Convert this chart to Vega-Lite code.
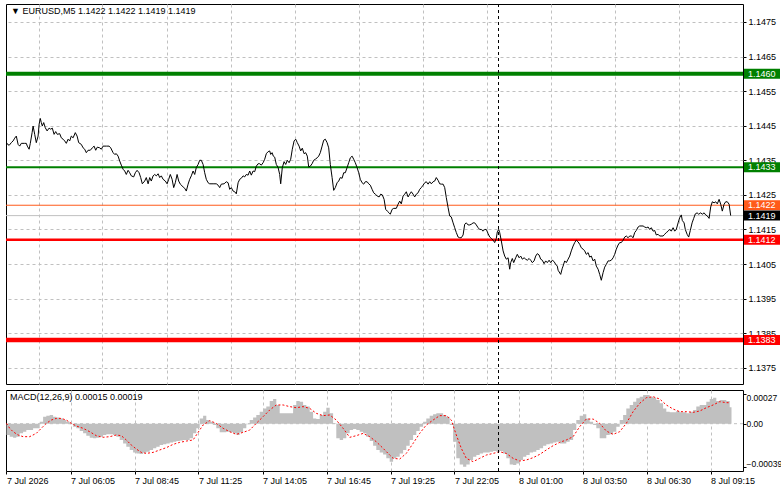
{
"$schema":"https://vega.github.io/schema/vega-lite/v6.json",
"padding":{"left":3,"top":3,"right":0,"bottom":0},
"background":"white",
"spacing":4,
"config":{
 "view":{"stroke":"black","strokeWidth":1},
 "font":"Liberation Sans",
 "axis":{"labelFont":"Liberation Sans","labelFontSize":9,"labelColor":"black","gridColor":"#c0c0c0","gridDash":[3,3],"gridWidth":1,"tickColor":"black","domain":false,"title":null,"labelOverlap":false,"labelSeparation":0},
 "axisRight":{"labelOverlap":false},
 "title":{"font":"Liberation Sans","fontSize":9,"fontWeight":"normal","color":"black","anchor":"start","frame":"group"}
},
"resolve":{"scale":{"x":"independent","y":"independent"}},
"datasets":{
 "levels":[{"price":1.1460,"kind":"buy target"},{"price":1.1433,"kind":"buy entry"},{"price":1.1422,"kind":"ask"},{"price":1.1419,"kind":"bid"},{"price":1.1412,"kind":"sell entry"},{"price":1.1383,"kind":"sell target"}],
 "price":[
{"bar":0,"price":1.14393},{"bar":0.4,"price":1.14398},{"bar":1.3,"price":1.14393},{"bar":2.4,"price":1.14401},{"bar":3.3,"price":1.14406},{"bar":4.1,"price":1.14414},{"bar":4.9,"price":1.1442},{"bar":5.8,"price":1.14396},{"bar":6.6,"price":1.14391},{"bar":7.4,"price":1.14399},{"bar":9.1,"price":1.14399},{"bar":9.9,"price":1.14399},{"bar":10.4,"price":1.14391},{"bar":11.3,"price":1.14382},{"bar":11.9,"price":1.14399},{"bar":12.8,"price":1.1443},{"bar":13.3,"price":1.14449},{"bar":14.1,"price":1.14425},{"bar":14.9,"price":1.14401},{"bar":15.8,"price":1.1442},{"bar":16.3,"price":1.14454},{"bar":16.9,"price":1.14471},{"bar":17.4,"price":1.14459},{"bar":17.9,"price":1.14449},{"bar":18.6,"price":1.14459},{"bar":19.4,"price":1.14444},{"bar":20.3,"price":1.14435},{"bar":21.3,"price":1.14443},{"bar":22.1,"price":1.1444},{"bar":22.9,"price":1.14443},{"bar":23.8,"price":1.14425},{"bar":24.6,"price":1.14433},{"bar":25.4,"price":1.14425},{"bar":26.6,"price":1.14427},{"bar":27.4,"price":1.14415},{"bar":28.3,"price":1.14411},{"bar":29.1,"price":1.14406},{"bar":29.9,"price":1.14399},{"bar":30.8,"price":1.14411},{"bar":31.6,"price":1.14406},{"bar":32.4,"price":1.1442},{"bar":33.3,"price":1.14415},{"bar":34.4,"price":1.1443},{"bar":35.3,"price":1.1442},{"bar":36.1,"price":1.14401},{"bar":37.4,"price":1.14396},{"bar":38.3,"price":1.14386},{"bar":39.1,"price":1.14382},{"bar":39.9,"price":1.14372},{"bar":40.8,"price":1.14379},{"bar":41.9,"price":1.14379},{"bar":42.9,"price":1.14386},{"bar":43.8,"price":1.14391},{"bar":44.6,"price":1.14379},{"bar":45.4,"price":1.14388},{"bar":46.6,"price":1.14386},{"bar":47.4,"price":1.14382},{"bar":48.3,"price":1.14391},{"bar":49.9,"price":1.14391},{"bar":51.3,"price":1.14391},{"bar":52.1,"price":1.14386},{"bar":53.3,"price":1.14372},{"bar":54.1,"price":1.14367},{"bar":54.9,"price":1.14369},{"bar":55.8,"price":1.14362},{"bar":56.6,"price":1.14348},{"bar":57.4,"price":1.14336},{"bar":58.3,"price":1.14324},{"bar":59.1,"price":1.14319},{"bar":59.9,"price":1.14309},{"bar":60.8,"price":1.14321},{"bar":61.6,"price":1.14314},{"bar":62.4,"price":1.14305},{"bar":63.6,"price":1.14302},{"bar":64.4,"price":1.14314},{"bar":65.3,"price":1.14321},{"bar":66.3,"price":1.14314},{"bar":67.1,"price":1.143},{"bar":67.9,"price":1.14282},{"bar":69.1,"price":1.1429},{"bar":69.9,"price":1.143},{"bar":70.8,"price":1.14282},{"bar":71.6,"price":1.143},{"bar":72.4,"price":1.1429},{"bar":73.3,"price":1.14305},{"bar":74.1,"price":1.14309},{"bar":74.9,"price":1.14305},{"bar":75.8,"price":1.14311},{"bar":76.6,"price":1.143},{"bar":77.4,"price":1.14305},{"bar":78.3,"price":1.14295},{"bar":79.4,"price":1.1429},{"bar":80.3,"price":1.14282},{"bar":81.1,"price":1.14295},{"bar":81.9,"price":1.14309},{"bar":82.8,"price":1.14295},{"bar":83.6,"price":1.14271},{"bar":84.4,"price":1.14285},{"bar":85.3,"price":1.14309},{"bar":86.1,"price":1.1429},{"bar":86.9,"price":1.14281},{"bar":88.3,"price":1.14273},{"bar":89.1,"price":1.14269},{"bar":89.9,"price":1.14261},{"bar":90.8,"price":1.14281},{"bar":91.6,"price":1.14295},{"bar":92.4,"price":1.14305},{"bar":93.3,"price":1.14319},{"bar":94.1,"price":1.14309},{"bar":94.9,"price":1.14329},{"bar":95.8,"price":1.14338},{"bar":96.6,"price":1.1435},{"bar":97.4,"price":1.1435},{"bar":98.3,"price":1.14338},{"bar":99.1,"price":1.14314},{"bar":99.9,"price":1.14295},{"bar":100.8,"price":1.14285},{"bar":101.6,"price":1.14282},{"bar":103.3,"price":1.14282},{"bar":104.9,"price":1.14282},{"bar":105.8,"price":1.14278},{"bar":106.6,"price":1.14271},{"bar":107.4,"price":1.14281},{"bar":108.8,"price":1.14282},{"bar":109.9,"price":1.14288},{"bar":110.8,"price":1.14285},{"bar":111.6,"price":1.14266},{"bar":112.4,"price":1.14271},{"bar":113.3,"price":1.14261},{"bar":114.1,"price":1.14259},{"bar":114.9,"price":1.14253},{"bar":115.8,"price":1.14285},{"bar":116.6,"price":1.14295},{"bar":117.4,"price":1.14298},{"bar":118.3,"price":1.14305},{"bar":119.1,"price":1.14302},{"bar":119.9,"price":1.14309},{"bar":120.8,"price":1.14307},{"bar":121.6,"price":1.14319},{"bar":122.4,"price":1.14307},{"bar":123.3,"price":1.14319},{"bar":124.1,"price":1.14317},{"bar":124.9,"price":1.14333},{"bar":125.8,"price":1.1434},{"bar":126.6,"price":1.1434},{"bar":127.4,"price":1.14336},{"bar":128.3,"price":1.14343},{"bar":129.1,"price":1.14353},{"bar":129.9,"price":1.14369},{"bar":130.8,"price":1.14375},{"bar":131.6,"price":1.14377},{"bar":132.1,"price":1.14367},{"bar":132.8,"price":1.14372},{"bar":133.4,"price":1.14362},{"bar":134.1,"price":1.14359},{"bar":134.9,"price":1.14338},{"bar":135.8,"price":1.14329},{"bar":136.6,"price":1.14309},{"bar":137.1,"price":1.14282},{"bar":137.9,"price":1.14329},{"bar":138.8,"price":1.14346},{"bar":139.6,"price":1.14338},{"bar":140.4,"price":1.1435},{"bar":141.3,"price":1.14343},{"bar":142.1,"price":1.14353},{"bar":142.9,"price":1.14382},{"bar":143.8,"price":1.14406},{"bar":144.6,"price":1.14411},{"bar":145.4,"price":1.14401},{"bar":146.3,"price":1.14391},{"bar":147.1,"price":1.14377},{"bar":147.9,"price":1.14385},{"bar":148.8,"price":1.14369},{"bar":149.6,"price":1.14372},{"bar":150.4,"price":1.14362},{"bar":151.1,"price":1.14331},{"bar":151.9,"price":1.14333},{"bar":152.8,"price":1.1434},{"bar":153.6,"price":1.1435},{"bar":154.4,"price":1.14353},{"bar":155.3,"price":1.14357},{"bar":156.1,"price":1.14362},{"bar":156.9,"price":1.14372},{"bar":157.8,"price":1.14391},{"bar":158.6,"price":1.14408},{"bar":159.4,"price":1.14411},{"bar":160.3,"price":1.14401},{"bar":161.1,"price":1.14386},{"bar":161.9,"price":1.14338},{"bar":162.8,"price":1.143},{"bar":163.6,"price":1.14263},{"bar":164.4,"price":1.14271},{"bar":165.3,"price":1.14285},{"bar":166.1,"price":1.1429},{"bar":166.9,"price":1.143},{"bar":167.8,"price":1.14298},{"bar":168.6,"price":1.14314},{"bar":169.4,"price":1.14314},{"bar":170.3,"price":1.14329},{"bar":171.1,"price":1.14343},{"bar":171.9,"price":1.14357},{"bar":172.8,"price":1.14362},{"bar":173.6,"price":1.14353},{"bar":174.4,"price":1.14343},{"bar":175.3,"price":1.14329},{"bar":176.1,"price":1.14314},{"bar":176.9,"price":1.14295},{"bar":177.8,"price":1.14285},{"bar":178.6,"price":1.14281},{"bar":179.4,"price":1.14288},{"bar":180.3,"price":1.14288},{"bar":181.1,"price":1.14282},{"bar":181.9,"price":1.14278},{"bar":182.8,"price":1.14266},{"bar":183.6,"price":1.14256},{"bar":184.4,"price":1.14252},{"bar":185.3,"price":1.14247},{"bar":186.3,"price":1.14244},{"bar":187.1,"price":1.14252},{"bar":187.9,"price":1.1425},{"bar":188.8,"price":1.14237},{"bar":189.6,"price":1.14208},{"bar":190.4,"price":1.14203},{"bar":191.3,"price":1.14198},{"bar":191.9,"price":1.14194},{"bar":192.8,"price":1.14208},{"bar":193.6,"price":1.14211},{"bar":194.9,"price":1.14211},{"bar":195.8,"price":1.14223},{"bar":196.6,"price":1.14232},{"bar":197.4,"price":1.14224},{"bar":198.3,"price":1.14247},{"bar":199.1,"price":1.14252},{"bar":199.9,"price":1.14259},{"bar":200.8,"price":1.14244},{"bar":201.6,"price":1.14252},{"bar":202.4,"price":1.14259},{"bar":203.3,"price":1.14252},{"bar":204.1,"price":1.14244},{"bar":204.9,"price":1.14252},{"bar":205.8,"price":1.14256},{"bar":206.6,"price":1.14266},{"bar":207.4,"price":1.14271},{"bar":208.3,"price":1.14278},{"bar":209.1,"price":1.14285},{"bar":209.9,"price":1.14288},{"bar":210.8,"price":1.14281},{"bar":211.6,"price":1.14288},{"bar":212.4,"price":1.14282},{"bar":213.3,"price":1.14288},{"bar":214.1,"price":1.1429},{"bar":214.9,"price":1.143},{"bar":215.8,"price":1.14292},{"bar":216.6,"price":1.14282},{"bar":217.4,"price":1.14281},{"bar":218.3,"price":1.14281},{"bar":219.1,"price":1.14271},{"bar":219.9,"price":1.14242},{"bar":220.8,"price":1.14213},{"bar":221.6,"price":1.14189},{"bar":222.4,"price":1.14186},{"bar":223.3,"price":1.14169},{"bar":224.1,"price":1.14155},{"bar":224.9,"price":1.14141},{"bar":225.8,"price":1.14128},{"bar":226.6,"price":1.14126},{"bar":227.4,"price":1.14126},{"bar":228.3,"price":1.14134},{"bar":229.1,"price":1.14165},{"bar":229.9,"price":1.14169},{"bar":230.8,"price":1.14163},{"bar":231.6,"price":1.14163},{"bar":232.4,"price":1.14165},{"bar":233.3,"price":1.14169},{"bar":234.1,"price":1.14169},{"bar":234.9,"price":1.14163},{"bar":235.8,"price":1.14155},{"bar":236.6,"price":1.1415},{"bar":237.4,"price":1.1415},{"bar":238.3,"price":1.14145},{"bar":239.1,"price":1.1415},{"bar":239.9,"price":1.1415},{"bar":240.8,"price":1.14138},{"bar":241.6,"price":1.14128},{"bar":242.4,"price":1.14124},{"bar":243.3,"price":1.14119},{"bar":244.1,"price":1.14112},{"bar":244.9,"price":1.14124},{"bar":245.4,"price":1.14143},{"bar":246.1,"price":1.1415},{"bar":246.6,"price":1.14141},{"bar":247.4,"price":1.14117},{"bar":248.3,"price":1.14088},{"bar":249.1,"price":1.14073},{"bar":249.9,"price":1.14064},{"bar":250.8,"price":1.14068},{"bar":251.6,"price":1.14035},{"bar":252.1,"price":1.14054},{"bar":252.9,"price":1.14066},{"bar":253.6,"price":1.14054},{"bar":254.6,"price":1.14068},{"bar":255.4,"price":1.14078},{"bar":256.3,"price":1.14068},{"bar":257.1,"price":1.14073},{"bar":257.9,"price":1.14064},{"bar":258.8,"price":1.14068},{"bar":259.6,"price":1.14064},{"bar":260.4,"price":1.14061},{"bar":261.3,"price":1.14066},{"bar":262.1,"price":1.14061},{"bar":262.9,"price":1.14054},{"bar":263.8,"price":1.14059},{"bar":264.6,"price":1.14073},{"bar":265.4,"price":1.1408},{"bar":266.3,"price":1.14076},{"bar":267.1,"price":1.14064},{"bar":267.9,"price":1.14061},{"bar":268.8,"price":1.14051},{"bar":269.6,"price":1.14059},{"bar":270.4,"price":1.14054},{"bar":271.3,"price":1.14061},{"bar":272.1,"price":1.14054},{"bar":272.9,"price":1.14061},{"bar":273.8,"price":1.14057},{"bar":274.6,"price":1.14049},{"bar":275.4,"price":1.14044},{"bar":275.8,"price":1.14032},{"bar":277.1,"price":1.1402},{"bar":277.9,"price":1.14038},{"bar":278.3,"price":1.14044},{"bar":279.1,"price":1.14059},{"bar":279.9,"price":1.14054},{"bar":280.8,"price":1.14064},{"bar":281.6,"price":1.14073},{"bar":282.4,"price":1.14088},{"bar":283.3,"price":1.14102},{"bar":284.1,"price":1.14112},{"bar":284.9,"price":1.14119},{"bar":285.8,"price":1.14114},{"bar":286.6,"price":1.14107},{"bar":287.4,"price":1.14097},{"bar":288.3,"price":1.14093},{"bar":289.1,"price":1.14088},{"bar":289.9,"price":1.14078},{"bar":290.8,"price":1.14083},{"bar":291.6,"price":1.1407},{"bar":292.4,"price":1.14073},{"bar":293.3,"price":1.14059},{"bar":294.1,"price":1.14064},{"bar":294.9,"price":1.14044},{"bar":295.8,"price":1.14035},{"bar":296.6,"price":1.1402},{"bar":297.4,"price":1.14003},{"bar":298.3,"price":1.14025},{"bar":299.1,"price":1.14041},{"bar":299.9,"price":1.14049},{"bar":300.8,"price":1.14059},{"bar":301.6,"price":1.14059},{"bar":302.4,"price":1.14061},{"bar":303.3,"price":1.14068},{"bar":304.1,"price":1.14078},{"bar":304.9,"price":1.14093},{"bar":305.8,"price":1.14105},{"bar":306.6,"price":1.14112},{"bar":307.4,"price":1.14112},{"bar":308.3,"price":1.14119},{"bar":309.1,"price":1.14128},{"bar":309.9,"price":1.14131},{"bar":310.8,"price":1.14126},{"bar":311.6,"price":1.14131},{"bar":312.4,"price":1.14131},{"bar":313.3,"price":1.14126},{"bar":314.1,"price":1.14141},{"bar":314.9,"price":1.14147},{"bar":315.8,"price":1.14157},{"bar":316.6,"price":1.1416},{"bar":318.3,"price":1.1416},{"bar":319.1,"price":1.14157},{"bar":319.9,"price":1.14155},{"bar":320.8,"price":1.14157},{"bar":321.6,"price":1.1415},{"bar":322.4,"price":1.14155},{"bar":323.3,"price":1.14145},{"bar":324.1,"price":1.14147},{"bar":324.9,"price":1.14134},{"bar":325.8,"price":1.14136},{"bar":326.6,"price":1.14131},{"bar":328.3,"price":1.14131},{"bar":329.1,"price":1.14136},{"bar":329.9,"price":1.14141},{"bar":330.8,"price":1.14145},{"bar":331.6,"price":1.1415},{"bar":332.4,"price":1.14145},{"bar":333.3,"price":1.14155},{"bar":334.1,"price":1.14145},{"bar":334.9,"price":1.1415},{"bar":335.8,"price":1.14169},{"bar":336.6,"price":1.14184},{"bar":337.4,"price":1.14192},{"bar":337.9,"price":1.14176},{"bar":338.8,"price":1.14169},{"bar":339.4,"price":1.1415},{"bar":340.3,"price":1.14136},{"bar":341.1,"price":1.14128},{"bar":341.9,"price":1.14147},{"bar":342.8,"price":1.14169},{"bar":343.6,"price":1.14182},{"bar":344.4,"price":1.14195},{"bar":345.3,"price":1.14198},{"bar":346.1,"price":1.14194},{"bar":347.1,"price":1.14198},{"bar":347.9,"price":1.14194},{"bar":348.8,"price":1.14198},{"bar":349.6,"price":1.14192},{"bar":350.4,"price":1.14189},{"bar":351.3,"price":1.14182},{"bar":352.1,"price":1.14215},{"bar":352.9,"price":1.1423},{"bar":353.8,"price":1.14227},{"bar":354.6,"price":1.1423},{"bar":355.4,"price":1.14224},{"bar":356.3,"price":1.14237},{"bar":357.1,"price":1.14223},{"bar":357.9,"price":1.14203},{"bar":358.8,"price":1.14223},{"bar":359.6,"price":1.1423},{"bar":360.4,"price":1.1423},{"bar":361.3,"price":1.14223},{"bar":362.1,"price":1.1419}
 ],
 "macd":[
{"bar":0,"macd":-0.000103},{"bar":1.6,"macd":-0.000118},{"bar":3.3,"macd":-0.000127},{"bar":4.9,"macd":-0.000118},{"bar":6.6,"macd":-0.000088},{"bar":8.3,"macd":-0.000073},{"bar":9.9,"macd":-0.000058},{"bar":11.6,"macd":-0.000058},{"bar":13.3,"macd":-0.000042},{"bar":14.9,"macd":-0.000042},{"bar":16.6,"macd":0.000018},{"bar":18.3,"macd":0.000064},{"bar":19.9,"macd":0.000073},{"bar":21.6,"macd":0.000079},{"bar":23.3,"macd":0.000064},{"bar":24.9,"macd":0.000055},{"bar":26.6,"macd":0.000048},{"bar":28.3,"macd":0.000033},{"bar":29.9,"macd":0.000018},{"bar":31.6,"macd":-0.000006},{"bar":33.3,"macd":-0.000027},{"bar":34.9,"macd":-0.000042},{"bar":36.6,"macd":-0.000067},{"bar":38.3,"macd":-0.000088},{"bar":39.9,"macd":-0.000109},{"bar":41.6,"macd":-0.000127},{"bar":43.3,"macd":-0.000133},{"bar":44.9,"macd":-0.000127},{"bar":46.6,"macd":-0.000118},{"bar":48.3,"macd":-0.000103},{"bar":49.9,"macd":-0.000097},{"bar":51.6,"macd":-0.000097},{"bar":53.3,"macd":-0.000103},{"bar":54.9,"macd":-0.000118},{"bar":56.6,"macd":-0.000148},{"bar":58.3,"macd":-0.000179},{"bar":59.9,"macd":-0.000209},{"bar":61.6,"macd":-0.000239},{"bar":63.3,"macd":-0.000261},{"bar":64.9,"macd":-0.00027},{"bar":66.6,"macd":-0.000276},{"bar":68.3,"macd":-0.000264},{"bar":69.9,"macd":-0.000255},{"bar":71.6,"macd":-0.000239},{"bar":73.3,"macd":-0.000224},{"bar":74.9,"macd":-0.000209},{"bar":76.6,"macd":-0.000194},{"bar":78.3,"macd":-0.000188},{"bar":79.9,"macd":-0.000179},{"bar":81.6,"macd":-0.00017},{"bar":83.3,"macd":-0.000164},{"bar":84.9,"macd":-0.000158},{"bar":86.6,"macd":-0.000152},{"bar":88.3,"macd":-0.000148},{"bar":89.9,"macd":-0.000148},{"bar":91.6,"macd":-0.000133},{"bar":93.3,"macd":-0.000088},{"bar":94.9,"macd":-0.000042},{"bar":96.6,"macd":0.000048},{"bar":98.3,"macd":0.000073},{"bar":99.9,"macd":0.000033},{"bar":101.6,"macd":0.000018},{"bar":103.3,"macd":-0.000012},{"bar":104.9,"macd":-0.000042},{"bar":106.6,"macd":-0.000079},{"bar":108.3,"macd":-0.000079},{"bar":109.9,"macd":-0.000073},{"bar":111.6,"macd":-0.000079},{"bar":113.3,"macd":-0.000088},{"bar":114.9,"macd":-0.000103},{"bar":116.6,"macd":-0.000079},{"bar":118.3,"macd":-0.000042},{"bar":119.9,"macd":-0.000006},{"bar":121.6,"macd":0.000033},{"bar":123.3,"macd":0.000055},{"bar":124.9,"macd":0.000079},{"bar":126.6,"macd":0.000109},{"bar":128.3,"macd":0.000139},{"bar":129.9,"macd":0.000155},{"bar":131.6,"macd":0.000206},{"bar":133.3,"macd":0.000224},{"bar":134.9,"macd":0.00017},{"bar":136.6,"macd":0.000094},{"bar":138.3,"macd":0.000094},{"bar":139.9,"macd":0.000094},{"bar":141.6,"macd":0.000094},{"bar":143.3,"macd":0.00017},{"bar":144.9,"macd":0.000206},{"bar":146.6,"macd":0.0002},{"bar":148.3,"macd":0.00017},{"bar":149.9,"macd":0.000155},{"bar":151.6,"macd":0.000109},{"bar":153.3,"macd":0.000048},{"bar":154.9,"macd":0.000042},{"bar":156.6,"macd":0.000079},{"bar":158.3,"macd":0.000109},{"bar":159.9,"macd":0.000145},{"bar":161.6,"macd":0.000094},{"bar":163.3,"macd":0.000003},{"bar":164.9,"macd":-0.000133},{"bar":166.6,"macd":-0.000148},{"bar":168.3,"macd":-0.000133},{"bar":169.9,"macd":-0.000088},{"bar":171.6,"macd":-0.000058},{"bar":173.3,"macd":-0.000048},{"bar":174.9,"macd":-0.000058},{"bar":176.6,"macd":-0.000073},{"bar":178.3,"macd":-0.000088},{"bar":179.9,"macd":-0.000118},{"bar":181.6,"macd":-0.000158},{"bar":183.3,"macd":-0.0002},{"bar":184.9,"macd":-0.000239},{"bar":186.6,"macd":-0.000261},{"bar":188.3,"macd":-0.000279},{"bar":189.9,"macd":-0.000315},{"bar":191.6,"macd":-0.000345},{"bar":193.3,"macd":-0.000315},{"bar":194.9,"macd":-0.0003},{"bar":196.6,"macd":-0.00027},{"bar":198.3,"macd":-0.000239},{"bar":199.9,"macd":-0.0002},{"bar":201.6,"macd":-0.000148},{"bar":203.3,"macd":-0.000103},{"bar":204.9,"macd":-0.000067},{"bar":206.6,"macd":-0.000027},{"bar":208.3,"macd":0.000018},{"bar":209.9,"macd":0.000048},{"bar":211.6,"macd":0.000073},{"bar":213.3,"macd":0.000085},{"bar":214.9,"macd":0.000094},{"bar":216.6,"macd":0.000094},{"bar":218.3,"macd":0.000079},{"bar":219.9,"macd":0.000064},{"bar":221.6,"macd":-0.000012},{"bar":223.3,"macd":-0.000164},{"bar":224.9,"macd":-0.000315},{"bar":226.6,"macd":-0.00037},{"bar":228.3,"macd":-0.000391},{"bar":229.9,"macd":-0.00037},{"bar":231.6,"macd":-0.00033},{"bar":233.3,"macd":-0.0003},{"bar":234.9,"macd":-0.000285},{"bar":236.6,"macd":-0.00027},{"bar":238.3,"macd":-0.000261},{"bar":239.9,"macd":-0.000261},{"bar":241.6,"macd":-0.000255},{"bar":243.3,"macd":-0.000248},{"bar":244.9,"macd":-0.000255},{"bar":246.6,"macd":-0.000248},{"bar":248.3,"macd":-0.00027},{"bar":249.9,"macd":-0.000315},{"bar":251.6,"macd":-0.00037},{"bar":253.3,"macd":-0.000376},{"bar":254.9,"macd":-0.000361},{"bar":256.6,"macd":-0.00033},{"bar":258.3,"macd":-0.0003},{"bar":259.9,"macd":-0.000285},{"bar":261.6,"macd":-0.000261},{"bar":263.3,"macd":-0.000255},{"bar":264.9,"macd":-0.000239},{"bar":266.6,"macd":-0.000224},{"bar":268.3,"macd":-0.0002},{"bar":269.9,"macd":-0.000188},{"bar":271.6,"macd":-0.000179},{"bar":273.3,"macd":-0.00017},{"bar":274.9,"macd":-0.000164},{"bar":276.6,"macd":-0.000179},{"bar":278.3,"macd":-0.000179},{"bar":279.9,"macd":-0.000164},{"bar":281.6,"macd":-0.000148},{"bar":283.3,"macd":-0.000058},{"bar":284.9,"macd":0.000033},{"bar":286.6,"macd":0.000073},{"bar":288.3,"macd":0.000085},{"bar":289.9,"macd":0.000048},{"bar":291.6,"macd":0.000018},{"bar":293.3,"macd":-0.000012},{"bar":294.9,"macd":-0.000042},{"bar":296.6,"macd":-0.000133},{"bar":298.3,"macd":-0.000133},{"bar":299.9,"macd":-0.000103},{"bar":301.6,"macd":-0.000097},{"bar":303.3,"macd":-0.000073},{"bar":304.9,"macd":-0.000027},{"bar":306.6,"macd":0.000033},{"bar":308.3,"macd":0.000079},{"bar":309.9,"macd":0.000139},{"bar":311.6,"macd":0.00017},{"bar":313.3,"macd":0.0002},{"bar":314.9,"macd":0.00023},{"bar":316.6,"macd":0.000245},{"bar":318.3,"macd":0.000261},{"bar":319.9,"macd":0.000261},{"bar":321.6,"macd":0.000245},{"bar":323.3,"macd":0.000236},{"bar":324.9,"macd":0.000215},{"bar":326.6,"macd":0.000185},{"bar":328.3,"macd":0.000139},{"bar":329.9,"macd":0.000109},{"bar":331.6,"macd":0.000103},{"bar":333.3,"macd":0.000103},{"bar":334.9,"macd":0.000115},{"bar":336.6,"macd":0.000103},{"bar":338.3,"macd":0.000103},{"bar":339.9,"macd":0.000094},{"bar":341.6,"macd":0.000109},{"bar":343.3,"macd":0.000124},{"bar":344.9,"macd":0.000155},{"bar":346.6,"macd":0.00017},{"bar":348.3,"macd":0.00017},{"bar":349.9,"macd":0.0002},{"bar":351.6,"macd":0.000224},{"bar":353.3,"macd":0.000236},{"bar":354.9,"macd":0.000206},{"bar":356.6,"macd":0.000215},{"bar":358.3,"macd":0.000215},{"bar":359.9,"macd":0.000206},{"bar":361.6,"macd":0.00015},{"bar":362.5,"macd":0.00015}
 ],
 "signal":[
{"bar":0,"signal":0.000003},{"bar":1.6,"signal":-0.000042},{"bar":3.3,"signal":-0.000073},{"bar":5.8,"signal":-0.000103},{"bar":8.3,"signal":-0.000118},{"bar":11.6,"signal":-0.000118},{"bar":14.9,"signal":-0.000088},{"bar":17.4,"signal":-0.000042},{"bar":19.9,"signal":0.000003},{"bar":22.4,"signal":0.000033},{"bar":24.9,"signal":0.000048},{"bar":27.4,"signal":0.000048},{"bar":29.9,"signal":0.000033},{"bar":32.4,"signal":0.000003},{"bar":34.9,"signal":-0.000021},{"bar":38.3,"signal":-0.000042},{"bar":41.6,"signal":-0.000073},{"bar":44.9,"signal":-0.000109},{"bar":48.3,"signal":-0.000124},{"bar":51.6,"signal":-0.000118},{"bar":54.9,"signal":-0.000103},{"bar":57.4,"signal":-0.000109},{"bar":59.9,"signal":-0.000148},{"bar":62.4,"signal":-0.000194},{"bar":64.9,"signal":-0.00023},{"bar":67.4,"signal":-0.000261},{"bar":69.9,"signal":-0.00027},{"bar":73.3,"signal":-0.000261},{"bar":76.6,"signal":-0.000239},{"bar":79.9,"signal":-0.000218},{"bar":83.3,"signal":-0.000188},{"bar":86.6,"signal":-0.00017},{"bar":89.9,"signal":-0.000158},{"bar":93.3,"signal":-0.000148},{"bar":95.8,"signal":-0.000079},{"bar":98.3,"signal":-0.000012},{"bar":101.6,"signal":0.000027},{"bar":104.9,"signal":0.000003},{"bar":108.3,"signal":-0.000042},{"bar":111.6,"signal":-0.000073},{"bar":114.9,"signal":-0.000097},{"bar":118.3,"signal":-0.000079},{"bar":121.6,"signal":-0.000058},{"bar":124.9,"signal":0.000003},{"bar":128.3,"signal":0.000064},{"bar":131.6,"signal":0.000124},{"bar":134.9,"signal":0.00017},{"bar":138.3,"signal":0.00017},{"bar":141.6,"signal":0.000155},{"bar":144.9,"signal":0.000145},{"bar":148.3,"signal":0.000155},{"bar":151.6,"signal":0.000139},{"bar":154.9,"signal":0.000094},{"bar":158.3,"signal":0.000073},{"bar":161.6,"signal":0.000079},{"bar":164.9,"signal":0.000033},{"bar":168.3,"signal":-0.000042},{"bar":171.6,"signal":-0.000124},{"bar":174.9,"signal":-0.000109},{"bar":178.3,"signal":-0.000088},{"bar":181.6,"signal":-0.000118},{"bar":184.9,"signal":-0.000164},{"bar":188.3,"signal":-0.000224},{"bar":191.6,"signal":-0.000285},{"bar":193.3,"signal":-0.000315},{"bar":196.6,"signal":-0.000321},{"bar":199.9,"signal":-0.00027},{"bar":203.3,"signal":-0.000179},{"bar":206.6,"signal":-0.000088},{"bar":209.9,"signal":-0.000012},{"bar":213.3,"signal":0.000033},{"bar":216.6,"signal":0.000073},{"bar":219.9,"signal":0.000073},{"bar":222.4,"signal":0.000033},{"bar":224.9,"signal":-0.000103},{"bar":227.4,"signal":-0.000224},{"bar":229.9,"signal":-0.000315},{"bar":233.3,"signal":-0.000345},{"bar":236.6,"signal":-0.000315},{"bar":239.9,"signal":-0.000285},{"bar":243.3,"signal":-0.00027},{"bar":246.6,"signal":-0.000255},{"bar":249.9,"signal":-0.00027},{"bar":253.3,"signal":-0.000315},{"bar":256.6,"signal":-0.000339},{"bar":259.9,"signal":-0.00033},{"bar":263.3,"signal":-0.000309},{"bar":266.6,"signal":-0.000279},{"bar":269.9,"signal":-0.000239},{"bar":273.3,"signal":-0.0002},{"bar":276.6,"signal":-0.00017},{"bar":279.9,"signal":-0.000148},{"bar":283.3,"signal":-0.000118},{"bar":286.6,"signal":-0.000027},{"bar":289.9,"signal":0.000042},{"bar":293.3,"signal":0.000042},{"bar":296.6,"signal":0.000003},{"bar":299.9,"signal":-0.000067},{"bar":303.3,"signal":-0.000097},{"bar":306.6,"signal":-0.000073},{"bar":309.9,"signal":0.000003},{"bar":313.3,"signal":0.000109},{"bar":316.6,"signal":0.000185},{"bar":319.9,"signal":0.000236},{"bar":323.3,"signal":0.000245},{"bar":326.6,"signal":0.000224},{"bar":329.9,"signal":0.00017},{"bar":333.3,"signal":0.000133},{"bar":336.6,"signal":0.000109},{"bar":339.9,"signal":0.000109},{"bar":343.3,"signal":0.000103},{"bar":346.6,"signal":0.000115},{"bar":349.9,"signal":0.000145},{"bar":353.3,"signal":0.00017},{"bar":356.6,"signal":0.0002},{"bar":359.9,"signal":0.000191},{"bar":361.6,"signal":0.00019}
 ]
},
"vconcat":[
 {
  "width":737,"height":380,
  "title":{"text":"▼ EURUSD,M5  1.1422 1.1422 1.1419 1.1419","offset":-12,"dx":5},
  "encoding":{
   "y":{"field":"price","type":"quantitative","scale":{"domain":[1.13703,1.14802],"nice":false,"zero":false},
        "axis":{"orient":"right","values":[1.1375,1.1385,1.1395,1.1405,1.1415,1.1425,1.1435,1.1445,1.1455,1.1465,1.1475],"format":".4f","grid":true,"tickSize":3,"labelPadding":2,"labelOverlap":false,"labelSeparation":0}}
  },
  "layer":[
   {"data":{"name":"levels"},
    "transform":[{"filter":"datum.kind === 'buy target'"}],
    "mark":{"type":"rule","color":"#008000","strokeWidth":4}},
   {"data":{"name":"levels"},
    "transform":[{"filter":"datum.kind === 'buy entry'"}],
    "mark":{"type":"rule","color":"#008000","strokeWidth":2}},
   {"data":{"name":"levels"},
    "transform":[{"filter":"datum.kind === 'ask'"}],
    "mark":{"type":"rule","color":"#ff5a1a","strokeWidth":1}},
   {"data":{"name":"levels"},
    "transform":[{"filter":"datum.kind === 'bid'"}],
    "mark":{"type":"rule","color":"#c0c0c0","strokeWidth":1}},
   {"data":{"name":"levels"},
    "transform":[{"filter":"datum.kind === 'sell entry'"}],
    "mark":{"type":"rule","color":"#ff0000","strokeWidth":2.5}},
   {"data":{"name":"levels"},
    "transform":[{"filter":"datum.kind === 'sell target'"}],
    "mark":{"type":"rule","color":"#ff0000","strokeWidth":4.5}},
   {"data":{"values":[{"bar":246}]},
    "mark":{"type":"rule","color":"black","strokeDash":[3,3],"strokeWidth":1},
    "encoding":{"x":{"field":"bar","type":"quantitative"},"y":null}},
   {"data":{"name":"price"},
    "mark":{"type":"line","color":"black","strokeWidth":1,"clip":true},
    "encoding":{
     "x":{"field":"bar","type":"quantitative","scale":{"domain":[-0.25,368.25],"nice":false,"zero":false},
          "axis":{"values":[16,32,48,64,80,96,112,128,144,160,176,192,208,224,240,256,272,288,304,320,336,352],"grid":true,"labels":false,"ticks":false}}
    }},
   {"data":{"name":"levels"},
    "mark":{"type":"rect","x2Offset":37,"xOffset":1,"yOffset":-5,"y2Offset":5},
    "encoding":{
     "x":{"value":"width"},"x2":{"value":"width"},
     "y2":{"field":"price"},
     "fill":{"field":"kind","type":"nominal","legend":null,"scale":{"domain":["buy target","buy entry","ask","bid","sell entry","sell target"],"range":["#008000","#008000","#ff5a1a","#000000","#ff0000","#ff0000"]}}
    }},
   {"data":{"name":"levels"},
    "mark":{"type":"text","align":"left","baseline":"middle","dx":5,"fontSize":9,"font":"Liberation Sans","color":"white"},
    "encoding":{
     "x":{"value":"width"},
     "text":{"field":"price","type":"quantitative","format":".4f"}
    }}
  ]
 },
 {
  "width":737,"height":81,
  "title":{"text":"MACD(12,26,9) 0.00015 0.00019","offset":-12,"dx":4},
  "layer":[
   {"data":{"values":[{"level":0}]},
    "mark":{"type":"rule","color":"#c0c0c0","strokeDash":[3,3]},
    "encoding":{"y":{"field":"level","type":"quantitative"}}},
   {"data":{"name":"macd"},
    "mark":{"type":"area","interpolate":"step-after","color":"#c0c0c0","opacity":1},
    "encoding":{
     "x":{"field":"bar","type":"quantitative","scale":{"domain":[-0.25,368.25],"nice":false,"zero":false},
          "axis":{"values":[0,16,32,48,64,80,96,112,128,144,160,176,192,208,224,240,256,272,288,304,320,336,352],"grid":true,
                  "gridOpacity":{"condition":{"test":"datum.value === 0","value":0},"value":1},
                  "tickOpacity":{"condition":{"test":"datum.value % 32 === 0","value":1},"value":0},
                  "tickSize":3,"labelPadding":2,"labelAlign":"left","labelOverlap":false,"labelFlush":false,"labelBound":false,
                  "labelExpr":"datum.value % 32 === 0 ? ['7 Jul 2026','7 Jul 06:05','7 Jul 08:45','7 Jul 11:25','7 Jul 14:05','7 Jul 16:45','7 Jul 19:25','7 Jul 22:05','8 Jul 01:00','8 Jul 03:50','8 Jul 06:30','8 Jul 09:15'][datum.value/32] : ''"}},
     "y":{"field":"macd","type":"quantitative","scale":{"domain":[-0.00043,0.000306],"nice":false,"zero":false},
          "axis":{"orient":"right","values":[-0.00039,0,0.00027],"grid":false,"tickSize":3,"labelPadding":0,"labelOverlap":false,"labelFontSize":8.5,
                  "labelBaseline":{"condition":[{"test":"datum.value > 0","value":"top"},{"test":"datum.value < 0","value":"alphabetic"}],"value":"middle"},
                  "labelExpr":"datum.value === 0 ? '0.00' : format(datum.value, '.5f')"}},
     "y2":{"datum":0}
    }},
   {"data":{"name":"signal"},
    "mark":{"type":"line","color":"#ff0000","strokeDash":[2,2],"strokeWidth":1},
    "encoding":{
     "x":{"field":"bar","type":"quantitative"},
     "y":{"field":"signal","type":"quantitative"}
    }},
   {"data":{"values":[{"bar":246}]},
    "mark":{"type":"rule","color":"black","strokeDash":[3,3],"strokeWidth":1},
    "encoding":{"x":{"field":"bar","type":"quantitative"}}}
  ]
 }
]
}
